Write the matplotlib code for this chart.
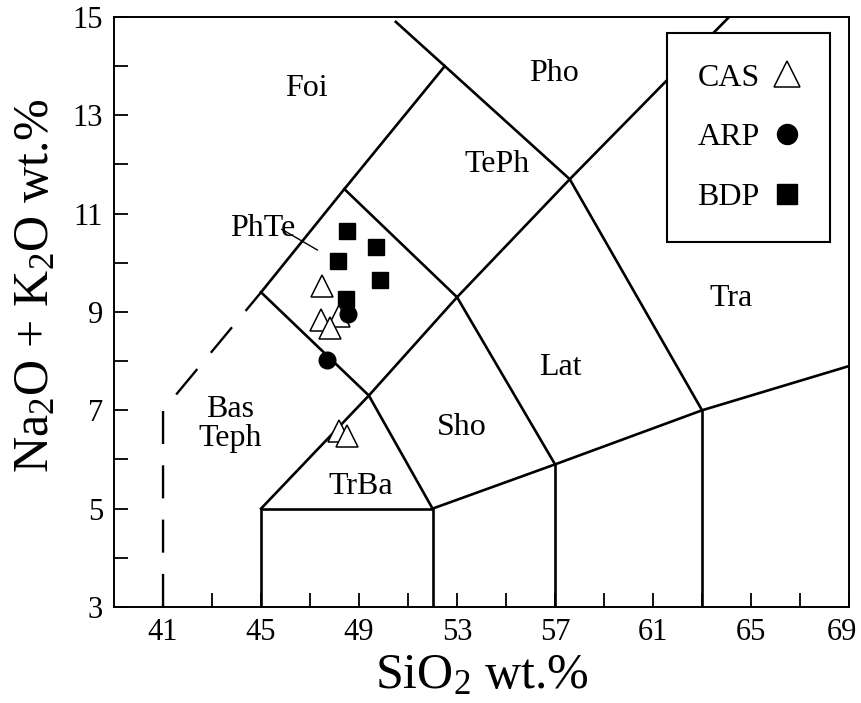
import matplotlib
matplotlib.use("Agg")
import matplotlib.pyplot as plt
import matplotlib.transforms as mtransforms

plt.rcParams['font.family'] = ['Liberation Serif', 'DejaVu Serif']
plt.rcParams['mathtext.fontset'] = 'custom'
plt.rcParams['mathtext.rm'] = 'Liberation Serif'
plt.rcParams['mathtext.it'] = 'Liberation Serif:italic'

# sample data (SiO2, Na2O+K2O)
cas_x = [47.5, 47.45, 48.2, 47.8, 48.2, 48.5]
cas_y = [9.52, 8.84, 8.92, 8.68, 6.57, 6.48]
arp_x = [48.55, 47.7]
arp_y = [8.96, 8.03]
bdp_x = [48.5, 49.7, 48.15, 49.85, 48.45]
bdp_y = [10.64, 10.32, 10.04, 9.65, 9.26]

# field boundaries of the TAS grid
solid_lines = [
    ([45, 48.4, 52.5, 50.5], [9.4, 11.5, 14, 14.9]),
    ([52.5, 57.6, 64.5], [14, 11.7, 15.2]),
    ([45, 49.4, 53, 57.6, 63], [9.4, 7.3, 9.3, 11.7, 7]),
    ([48.4, 53, 57], [11.5, 9.3, 5.9]),
    ([45, 49.4, 52], [5, 7.3, 5]),
    ([45, 45, 52, 52], [3, 5, 5, 3]),
    ([52, 57, 63, 69], [5, 5.9, 7, 7.9]),
    ([57, 57], [3, 5.9]),
    ([63, 63], [3, 7]),
]
dashed_x = [41, 41, 45]
dashed_y = [3, 7, 9.4]

field_names = ['Foi', 'Pho', 'TePh', 'PhTe', 'Tra', 'Lat', 'Sho', 'Bas\nTeph', 'TrBa']
field_x = [46.85, 56.95, 54.65, 45.05, 64.2, 57.2, 53.2, 43.75, 49.05]
field_y = [13.55, 13.85, 12.0, 10.7, 9.27, 7.88, 6.66, 6.72, 5.45]

fig = plt.figure(figsize=(8.62, 7.03), dpi=100)
ax = fig.add_axes([0.1323, 0.1366, 0.8527, 0.8393])

for xs, ys in solid_lines:
    ax.plot(xs, ys, color='black', lw=1.9, zorder=2)
ax.plot(dashed_x, dashed_y, color='black', lw=1.7, linestyle=(0, (14, 9)), zorder=2)

# leader line for PhTe label
ax.plot([45.85, 47.3], [10.68, 10.26], color='black', lw=1.0, zorder=2)

for name, x, y in zip(field_names, field_x, field_y):
    ax.text(x, y, name, fontsize=23, ha='center', va='center', linespacing=1.0)

ax.plot(cas_x, cas_y, '^', ms=16, mfc='white', mec='black', mew=1.1,
        ls='none', zorder=4, label='CAS')
ax.plot(arp_x, arp_y, 'o', ms=12, mfc='black', mec='black',
        ls='none', zorder=5, label='ARP')
ax.plot(bdp_x, bdp_y, 's', ms=12, mfc='black', mec='black',
        ls='none', zorder=3, label='BDP')

leg = ax.legend(loc='upper right', bbox_to_anchor=(0.974, 0.973), markerfirst=False,
                fontsize=23, frameon=True, fancybox=False, framealpha=1,
                edgecolor='black', borderpad=0.95, labelspacing=0.95,
                handlelength=0.8, handletextpad=0.45, markerscale=1.2,
                borderaxespad=0)
leg.get_frame().set_linewidth(1.5)
leg.set_zorder(10)

ax.set_xlim(39, 69)
ax.set_ylim(3, 15)
ax.set_xticks(range(41, 70, 4))
ax.set_xticks(range(43, 69, 4), minor=True)
ax.set_yticks(range(3, 16, 2))
ax.set_yticks(range(4, 15, 2), minor=True)
ax.tick_params(which='both', direction='in', length=10, width=1.3,
               top=False, right=False, labelsize=22, pad=8)
for sp in ax.spines.values():
    sp.set_linewidth(1.4)

# nudge the last x label so it stays inside the figure
last = ax.get_xticklabels()[-1]
last.set_transform(last.get_transform() +
                   mtransforms.ScaledTranslation(-5 / 72, 0, fig.dpi_scale_trans))

ax.set_xlabel('SiO$_2$ wt.%', fontsize=36, labelpad=4)
ax.set_ylabel('Na$_2$O + K$_2$O wt.%', fontsize=36)
ax.yaxis.set_label_coords(-0.075, 0.545)

fig.savefig('out.png', dpi=100)
